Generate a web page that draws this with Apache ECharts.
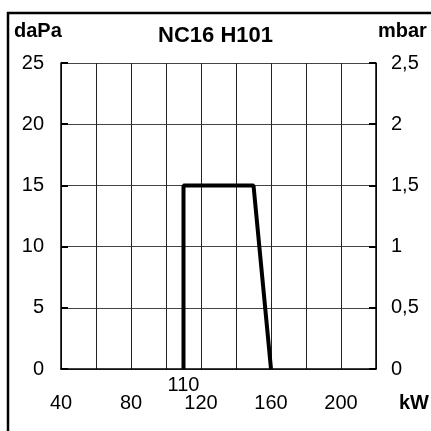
<!DOCTYPE html>
<html>
<head>
<meta charset="utf-8">
<script src="https://cdn.jsdelivr.net/npm/echarts@6/dist/echarts.min.js"></script>
<style>html,body{margin:0;padding:0;background:#fff}#c{width:431px;height:431px}</style>
</head>
<body>
<div id="c"></div>
<script>
var titleText = 'NC16 H101';
var leftUnit = 'daPa';
var rightUnit = 'mbar';
var xUnit = 'kW';
var xShownLabels = [40, 80, 120, 160, 200];
var powerKW = [110, 110, 150, 160];
var pressureDaPa = [0, 15, 15, 0];
var markX = [110];
var markY = [0];

var FONT = 'Liberation Sans, Arial, sans-serif';
var chart = echarts.init(document.getElementById('c'), null, {renderer: 'canvas'});
var lineData = powerKW.map(function (x, i) { return [x, pressureDaPa[i]]; });
var markData = markX.map(function (x, i) { return [x, markY[i]]; });

chart.setOption({
  animation: false,
  backgroundColor: '#fff',
  title: {text: titleText, left: 'center', top: 20, textStyle: {fontFamily: FONT, fontSize: 22, fontWeight: 'bold', color: '#000'}},
  grid: {left: 61, right: 55, top: 63, bottom: 62, containLabel: false},
  xAxis: {
    type: 'value', min: 40, max: 220, interval: 20,
    axisLine: {show: true, lineStyle: {color: '#000', width: 1.5}},
    axisTick: {show: false},
    splitLine: {show: true, lineStyle: {color: '#222', width: 1}},
    axisLabel: {
      margin: 24, color: '#000', fontFamily: FONT, fontSize: 20,
      formatter: function (v) { return xShownLabels.indexOf(v) >= 0 ? String(v) : ''; }
    }
  },
  yAxis: [{
    type: 'value', min: 0, max: 25, interval: 5, position: 'left',
    axisLine: {show: true, lineStyle: {color: '#000', width: 1.5}},
    axisTick: {show: true, inside: true, length: 7, lineStyle: {color: '#000', width: 2}},
    splitLine: {show: true, lineStyle: {color: '#444', width: 1}},
    axisLabel: {margin: 17, color: '#000', fontFamily: FONT, fontSize: 20, padding: [5, 0, 0, 0]}
  }, {
    type: 'value', min: 0, max: 2.5, interval: 0.5, position: 'right',
    axisLine: {show: true, lineStyle: {color: '#000', width: 1.5}},
    axisTick: {show: true, inside: true, length: 7, lineStyle: {color: '#000', width: 2}},
    splitLine: {show: false},
    axisLabel: {margin: 15, color: '#000', fontFamily: FONT, fontSize: 20, padding: [5, 0, 0, 0],
      formatter: function (v) { return String(v).replace('.', ','); }}
  }],
  graphic: [
    {type: 'line', shape: {x1: 7, y1: 13, x2: 431, y2: 13}, style: {stroke: '#000', lineWidth: 2.5}},
    {type: 'line', shape: {x1: 8, y1: 12, x2: 8, y2: 431}, style: {stroke: '#000', lineWidth: 2.5}},
    {type: 'text', left: 14, top: 21, style: {text: leftUnit, font: 'bold 20px ' + FONT, fill: '#000'}},
    {type: 'text', left: 378, top: 21, style: {text: rightUnit, font: 'bold 20px ' + FONT, fill: '#000'}},
    {type: 'text', left: 399, top: 393, style: {text: xUnit, font: 'bold 20px ' + FONT, fill: '#000'}}
  ],
  series: [{
    type: 'line', data: lineData, showSymbol: false, symbol: 'none',
    lineStyle: {color: '#000', width: 4}, silent: true
  }, {
    type: 'scatter', data: markData, symbolSize: 0, itemStyle: {color: '#000', opacity: 1}, silent: true,
    label: {show: true, position: 'bottom', distance: 6, color: '#000', opacity: 1, fontFamily: FONT, fontSize: 20,
      formatter: function (p) { return String(p.value[0]); }}
  }]
});
</script>
</body>
</html>
